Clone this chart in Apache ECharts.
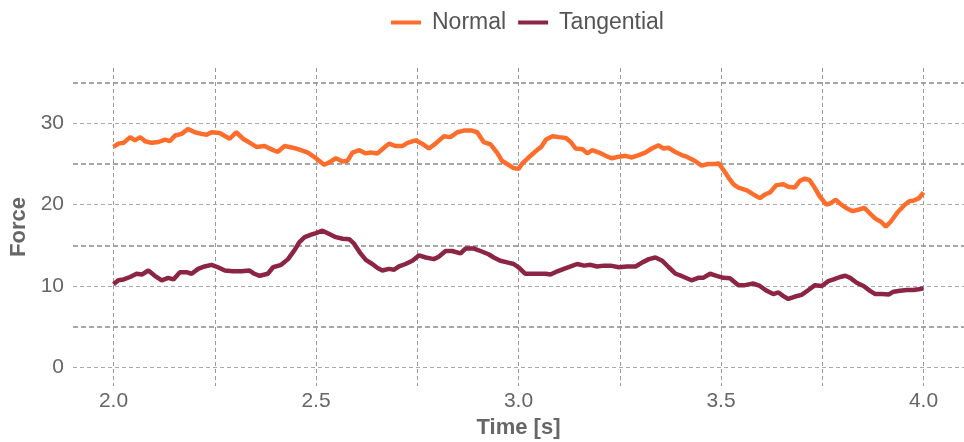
<!DOCTYPE html>
<html>
<head>
<meta charset="utf-8">
<title>Force</title>
<script src="https://cdn.jsdelivr.net/npm/echarts@6/dist/echarts.min.js"></script>
<style>
  html, body { margin: 0; padding: 0; background: #fff; }
  #chart { width: 964px; height: 442px; }
</style>
</head>
<body>
<div id="chart"></div>
<script>
// --- data ---
const normalTime = [
  2.000, 2.012, 2.025, 2.041, 2.053, 2.066, 2.078, 2.094, 2.111, 2.127, 2.139, 2.152, 2.168, 2.184, 2.201, 2.217,
  2.230, 2.242, 2.262, 2.287, 2.303, 2.320, 2.340, 2.353, 2.373, 2.394, 2.406, 2.422, 2.443, 2.463, 2.480,
  2.500, 2.520, 2.533, 2.549, 2.566, 2.578, 2.590, 2.607, 2.623, 2.635, 2.652, 2.668, 2.680, 2.697, 2.713, 2.726,
  2.746, 2.762, 2.779, 2.795, 2.816, 2.832, 2.849, 2.865, 2.885, 2.898, 2.914, 2.931, 2.947, 2.959, 2.972, 2.988,
  3.000, 3.010, 3.023, 3.043, 3.056, 3.068, 3.084, 3.100, 3.117, 3.129, 3.141, 3.158, 3.170, 3.182, 3.199, 3.215,
  3.231, 3.248, 3.264, 3.280, 3.297, 3.313, 3.329, 3.346, 3.358, 3.370, 3.386, 3.403, 3.415, 3.435, 3.452, 3.468, 3.489,
  3.494, 3.507, 3.519, 3.531, 3.543, 3.564, 3.580, 3.596, 3.609, 3.621, 3.637, 3.654, 3.666, 3.682, 3.694, 3.707,
  3.719, 3.731, 3.744, 3.760, 3.772, 3.783, 3.797, 3.809, 3.825, 3.841, 3.854, 3.866, 3.882, 3.895, 3.907, 3.919,
  3.935, 3.952, 3.964, 3.976, 3.989, 4.000
];
const normalForce = [
  27.1, 27.5, 27.6, 28.3, 27.9, 28.3, 27.8, 27.6, 27.7, 28.0, 27.8, 28.5, 28.7, 29.3, 28.9, 28.7,
  28.6, 28.9, 28.8, 28.1, 28.9, 28.1, 27.5, 27.1, 27.2, 26.7, 26.5, 27.2, 27.0, 26.7, 26.4,
  25.7, 24.9, 25.2, 25.7, 25.3, 25.4, 26.4, 26.7, 26.3, 26.4, 26.3, 27.0, 27.5, 27.2, 27.2, 27.6,
  27.9, 27.5, 26.9, 27.5, 28.4, 28.3, 28.9, 29.1, 29.1, 28.9, 27.7, 27.4, 26.4, 25.4, 25.0, 24.5,
  24.4, 25.1, 25.7, 26.6, 27.1, 28.0, 28.4, 28.3, 28.2, 27.7, 26.9, 26.8, 26.3, 26.7, 26.4, 26.0,
  25.7, 25.9, 26.0, 25.8, 26.1, 26.4, 26.9, 27.3, 26.9, 27.0, 26.5, 26.1, 25.9, 25.4, 24.8, 25.0, 25.0,
  25.1, 24.2, 23.3, 22.5, 22.1, 21.75, 21.25, 20.8, 21.25, 21.5, 22.4, 22.5, 22.2, 22.1, 22.9, 23.2,
  23.0, 22.1, 21.0, 20.0, 20.2, 20.6, 20.0, 19.6, 19.2, 19.4, 19.6, 19.0, 18.25, 17.9, 17.3, 17.9,
  19.0, 19.9, 20.4, 20.5, 20.8, 21.5
];

const tangTime = [
  2.000, 2.012, 2.025, 2.041, 2.057, 2.070, 2.086, 2.102, 2.119, 2.135, 2.148, 2.164, 2.180, 2.193, 2.209, 2.225,
  2.242, 2.258, 2.275, 2.295, 2.316, 2.336, 2.348, 2.361, 2.381, 2.394, 2.414, 2.431, 2.447, 2.459, 2.472, 2.488,
  2.500, 2.516, 2.533, 2.549, 2.566, 2.582, 2.594, 2.607, 2.623, 2.639, 2.652, 2.664, 2.680, 2.693, 2.705, 2.721,
  2.738, 2.754, 2.771, 2.791, 2.803, 2.820, 2.836, 2.857, 2.869, 2.890, 2.906, 2.926, 2.939, 2.955, 2.972, 2.988,
  3.000, 3.017, 3.034, 3.050, 3.067, 3.079, 3.096, 3.112, 3.129, 3.145, 3.162, 3.178, 3.194, 3.211, 3.227, 3.248,
  3.268, 3.289, 3.306, 3.322, 3.338, 3.355, 3.371, 3.388, 3.404, 3.427, 3.444, 3.456, 3.473, 3.489, 3.506, 3.522,
  3.543, 3.559, 3.580, 3.596, 3.613, 3.629, 3.642, 3.654, 3.666, 3.683, 3.699, 3.716, 3.732, 3.749, 3.765, 3.778,
  3.794, 3.807, 3.819, 3.835, 3.852, 3.868, 3.881, 3.897, 3.914, 3.926, 3.942, 3.959, 3.975, 3.988, 4.000
];
const tangForce = [
  10.2, 10.7, 10.8, 11.1, 11.5, 11.4, 11.9, 11.25, 10.7, 11.0, 10.8, 11.7, 11.7, 11.5, 12.1, 12.4,
  12.6, 12.3, 11.9, 11.8, 11.8, 11.9, 11.5, 11.25, 11.5, 12.3, 12.6, 13.3, 14.4, 15.4, 16.0, 16.3,
  16.5, 16.8, 16.4, 16.0, 15.8, 15.75, 15.2, 14.2, 13.2, 12.7, 12.2, 11.9, 12.1, 12.0, 12.4, 12.7,
  13.1, 13.75, 13.5, 13.3, 13.6, 14.3, 14.3, 14.0, 14.6, 14.6, 14.3, 13.9, 13.5, 13.1, 12.9, 12.7,
  12.3, 11.5, 11.5, 11.5, 11.5, 11.4, 11.8, 12.1, 12.4, 12.7, 12.5, 12.6, 12.4, 12.5, 12.5, 12.3,
  12.4, 12.4, 12.9, 13.3, 13.5, 13.1, 12.3, 11.5, 11.2, 10.7, 11.0, 11.0, 11.5, 11.25, 11.0, 10.96,
  10.1, 10.1, 10.3, 10.0, 9.4, 9.0, 9.2, 8.75, 8.4, 8.7, 8.9, 9.5, 10.1, 10.0, 10.6, 10.8,
  11.1, 11.25, 11.0, 10.4, 10.0, 9.4, 9.0, 9.0, 8.96, 9.3, 9.4, 9.5, 9.5, 9.6, 9.7
];

// tick / grid positions
const xGridValues = [2.0, 2.25, 2.5, 2.75, 3.0, 3.25, 3.5, 3.75, 4.0];
const xLabelValues = [2.0, 2.5, 3.0, 3.5, 4.0];
const yMajorValues = [0, 10, 20, 30];
const yMinorValues = [5, 15, 25, 35];

const pairs = (xs, ys) => xs.map((x, i) => [x, ys[i]]);

const chart = echarts.init(document.getElementById('chart'));
const font = '"Liberation Sans", Arial, sans-serif';
const yMin = -2.3, yMax = 36.8;

chart.setOption({
  animation: false,
  textStyle: { fontFamily: font },
  legend: {
    left: 386,
    top: 6,
    icon: 'rect',
    itemWidth: 30,
    itemHeight: 4,
    itemGap: 12,
    textStyle: { fontSize: 23, color: '#555', fontFamily: font, padding: [0, 0, 0, 6] },
    data: ['Normal', 'Tangential']
  },
  grid: { left: 73, right: 0, top: 68, bottom: 56, containLabel: false, outerBoundsMode: 'none' },
  xAxis: {
    type: 'value',
    min: 1.9,
    max: 4.1,
    name: 'Time [s]',
    nameLocation: 'middle',
    nameGap: 28,
    nameTextStyle: { fontSize: 22, fontWeight: 'bold', color: '#666', fontFamily: font },
    axisLine: { show: false },
    axisTick: { show: false, customValues: xGridValues },
    axisLabel: {
      customValues: xLabelValues,
      formatter: v => v.toFixed(1),
      fontSize: 21,
      color: '#666',
      margin: 5
    },
    splitLine: { show: true, lineStyle: { color: '#999', width: 1, type: [4, 3] } }
  },
  yAxis: [
    {
      type: 'value',
      min: yMin,
      max: yMax,
      position: 'left',
      name: 'Force',
      nameLocation: 'middle',
      nameGap: 39,
      nameTextStyle: { fontSize: 22, fontWeight: 'bold', color: '#666', fontFamily: font },
      axisLine: { show: false },
      axisTick: { show: false, customValues: yMajorValues },
      axisLabel: { customValues: yMajorValues, fontSize: 21, color: '#666', margin: 9 },
      splitLine: { show: true, lineStyle: { color: '#aaa', width: 1, type: [4, 3] } }
    },
    {
      type: 'value',
      min: yMin,
      max: yMax,
      position: 'left',
      axisLine: { show: false },
      axisTick: { show: false, customValues: yMinorValues },
      axisLabel: { show: false },
      splitLine: { show: true, lineStyle: { color: '#888', width: 1.5, type: [5, 3] } }
    }
  ],
  series: [
    {
      name: 'Normal',
      type: 'line',
      data: pairs(normalTime, normalForce),
      showSymbol: false,
      color: '#ff6d2c',
      lineStyle: { width: 4.5, color: '#ff6d2c' },
      z: 3
    },
    {
      name: 'Tangential',
      type: 'line',
      data: pairs(tangTime, tangForce),
      showSymbol: false,
      color: '#8c2444',
      lineStyle: { width: 4.5, color: '#8c2444' },
      z: 3
    }
  ]
});
</script>
</body>
</html>
